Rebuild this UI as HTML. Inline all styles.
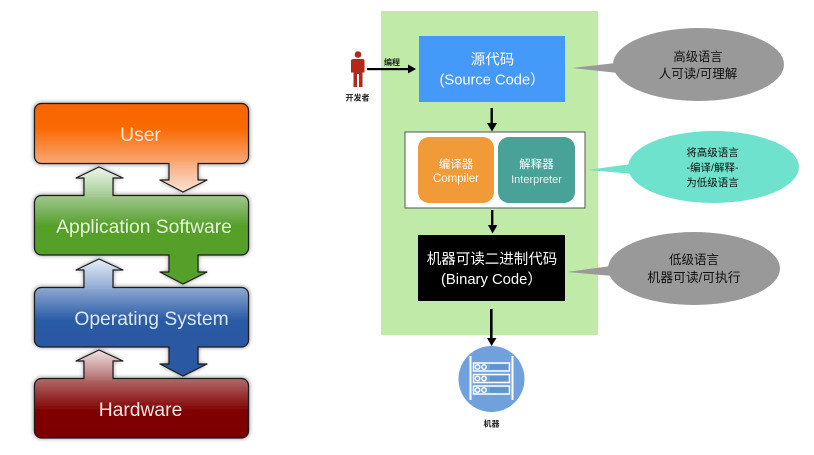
<!DOCTYPE html>
<html><head><meta charset="utf-8">
<style>
html,body{margin:0;padding:0;background:#fff;width:814px;height:455px;overflow:hidden}
svg{display:block}
text{font-family:"Liberation Sans","Noto Sans CJK SC",sans-serif}
</style></head><body>
<svg width="814" height="455" viewBox="0 0 814 455" xmlns="http://www.w3.org/2000/svg">
<defs>
<filter id="s" x="-10%" y="-20%" width="120%" height="140%"><feGaussianBlur stdDeviation="2.5"/></filter>
<filter id="b"><feGaussianBlur stdDeviation="0.35"/></filter>
<linearGradient id="u" x1="0" y1="0" x2="0" y2="1"><stop offset="0" stop-color="#f96400"/><stop offset=".42" stop-color="#f96a04"/><stop offset="1" stop-color="#f9a878"/></linearGradient>
<linearGradient id="ud" gradientUnits="userSpaceOnUse" x1="0" y1="164" x2="0" y2="193"><stop offset="0" stop-color="#f9ac80"/><stop offset="1" stop-color="#fbe6da"/></linearGradient>
<linearGradient id="a" x1="0" y1="0" x2="0" y2="1"><stop offset="0" stop-color="#a0c890"/><stop offset=".5" stop-color="#57a02c"/><stop offset="1" stop-color="#55a028"/></linearGradient>
<linearGradient id="au" gradientUnits="userSpaceOnUse" x1="0" y1="167" x2="0" y2="196"><stop offset="0" stop-color="#eff6ea"/><stop offset="1" stop-color="#a4cb94"/></linearGradient>
<linearGradient id="o" x1="0" y1="0" x2="0" y2="1"><stop offset="0" stop-color="#8ea9d2"/><stop offset=".55" stop-color="#2a5ba6"/><stop offset="1" stop-color="#2a58a2"/></linearGradient>
<linearGradient id="ou" gradientUnits="userSpaceOnUse" x1="0" y1="259" x2="0" y2="288"><stop offset="0" stop-color="#e6edf6"/><stop offset="1" stop-color="#92acd4"/></linearGradient>
<linearGradient id="h" x1="0" y1="0" x2="0" y2="1"><stop offset="0" stop-color="#b06a6a"/><stop offset=".55" stop-color="#800000"/><stop offset="1" stop-color="#7c0000"/></linearGradient>
<linearGradient id="hu" gradientUnits="userSpaceOnUse" x1="0" y1="350" x2="0" y2="379"><stop offset="0" stop-color="#f0e2e2"/><stop offset="1" stop-color="#b57272"/></linearGradient>
</defs>

<!-- left stack shadows -->
<g filter="url(#s)" fill="#000" opacity=".55">
<rect x="34" y="103" width="215" height="61" rx="7"/>
<rect x="34" y="195" width="215" height="60" rx="7"/>
<rect x="34" y="287" width="215" height="60" rx="7"/>
<rect x="34" y="378" width="215" height="60" rx="7"/>
<path d="M169 164V180H160L183 192L207 180H198V164Z"/>
<path d="M169 255V272H160L183 284L207 272H198V255Z"/>
<path d="M169 347V364H160L183 376L207 364H198V347Z"/>
<path d="M84 195V178H76L99 167L123 178H113V195Z"/>
<path d="M84 287V270H76L99 259L123 270H113V287Z"/>
<path d="M84 378V361H76L99 350L123 361H113V378Z"/>
</g>
<g filter="url(#b)">
<g stroke="#1a1a1a" stroke-width="1.2" stroke-linejoin="round">
<path d="M84 196V178H76L99 167L123 178H113V196Z" fill="url(#au)"/>
<path d="M84 288V270H76L99 259L123 270H113V288Z" fill="url(#ou)"/>
<path d="M84 379V361H76L99 350L123 361H113V379Z" fill="url(#hu)"/>
<path d="M169 163V180H160L183 192L207 180H198V163Z" fill="url(#ud)"/>
<path d="M169 254V272H160L183 284L207 272H198V254Z" fill="#57a02c"/>
<path d="M169 346V364H160L183 376L207 364H198V346Z" fill="#2a58a2"/>
<rect x="34.500" y="103.500" width="214" height="60" rx="7" fill="url(#u)"/>
<rect x="34.500" y="195.500" width="214" height="59.500" rx="7" fill="url(#a)"/>
<rect x="34.500" y="287.500" width="214" height="59.500" rx="7" fill="url(#o)"/>
<rect x="34.500" y="378.500" width="214" height="59.500" rx="7" fill="url(#h)"/>
</g>
<!-- hide joins -->
<rect x="169.600" y="162" width="27.800" height="3" fill="#f9ac80"/>
<rect x="169.600" y="253" width="27.800" height="3" fill="#57a02c"/>
<rect x="169.600" y="345" width="27.800" height="3" fill="#2a58a2"/>
<rect x="84.600" y="194" width="27.800" height="3" fill="#a4cb94"/>
<rect x="84.600" y="286" width="27.800" height="3" fill="#92acd4"/>
<rect x="84.600" y="377" width="27.800" height="3" fill="#b57272"/>
<g font-size="19.300" text-anchor="middle">
<text x="140.500" y="141" fill="#fde6d4">User</text>
<text x="144" y="233" fill="#e6f4da">Application Software</text>
<text x="151.500" y="325" fill="#dbe7f8">Operating System</text>
<text x="140.500" y="416" fill="#f6e6e6">Hardware</text>
</g>
</g>

<!-- right panel -->
<rect x="381" y="11" width="217" height="324" fill="#c0eaa8"/>
<g filter="url(#b)">
<rect x="419" y="36" width="146" height="66" fill="#4499f8"/>
<text x="492.500" y="64.500" font-size="14.500" fill="#fff" text-anchor="middle">源代码</text>
<text x="439.500" y="84.500" font-size="14.700" fill="#fff">(Source Code）</text>

<rect x="405" y="132" width="180" height="76" fill="#fff" stroke="#555" stroke-width="1"/>
<rect x="418" y="137" width="76" height="66" rx="11" fill="#f09a38"/>
<rect x="498" y="137" width="77" height="66" rx="11" fill="#48a298"/>
<text x="456" y="168" font-size="11.500" fill="#fff" text-anchor="middle">编译器</text>
<text x="456" y="182" font-size="11.500" fill="#fff" text-anchor="middle">Compiler</text>
<text x="536.500" y="168" font-size="11.500" fill="#fff" text-anchor="middle">解释器</text>
<text x="536.500" y="183" font-size="11" fill="#e8f4f2" text-anchor="middle">Interpreter</text>

<rect x="418" y="235" width="147" height="66" fill="#000"/>
<text x="492" y="264" font-size="14.500" fill="#fff" text-anchor="middle">机器可读二进制代码</text>
<text x="441" y="284" font-size="14.800" fill="#fff">(Binary Code）</text>

<!-- connectors -->
<g fill="#000" stroke="none">
<rect x="367" y="68" width="43" height="2.200"/>
<path d="M408 64.500L416 69L408 73.500Z"/>
<rect x="490.500" y="108" width="2.400" height="17"/>
<path d="M487 123H497L492 131.500Z"/>
<rect x="491" y="210" width="2.400" height="16"/>
<path d="M488 225H497.500L492.500 233.500Z"/>
<rect x="490" y="309" width="2.600" height="30"/>
<path d="M487 338H496.500L491.500 346Z"/>
</g>
<text x="384" y="65" font-size="8" fill="#222" font-weight="bold">编程</text>

<!-- person -->
<g fill="#b02a1e">
<circle cx="358" cy="54.500" r="3.300"/>
<path d="M353.500 59H362.500Q364.500 59 364.500 61V72.500H362.500V87H359V74H357V87H353.500V72.500H351V61Q351 59 353.500 59Z"/>
</g>
<text x="357.500" y="100.500" font-size="8" fill="#222" text-anchor="middle" font-weight="bold">开发者</text>

<!-- bubbles -->
<path d="M572 68L616 63L618 73Z" fill="#999"/>
<ellipse cx="698.500" cy="64.500" rx="85.500" ry="36.500" fill="#999"/>
<text x="698" y="61" font-size="12.300" fill="#111" text-anchor="middle">高级语言</text>
<text x="698" y="78" font-size="12.500" fill="#111" text-anchor="middle">人可读/可理解</text>

<path d="M587 170L631 164L634 174Z" fill="#6ee2cc"/>
<ellipse cx="713.500" cy="167" rx="85.500" ry="36" fill="#6ee2cc"/>
<text x="712.500" y="156" font-size="10.500" fill="#111" text-anchor="middle">将高级语言</text>
<text x="712.500" y="171" font-size="10.500" fill="#111" text-anchor="middle">-编译/解释-</text>
<text x="712.500" y="186" font-size="10.500" fill="#111" text-anchor="middle">为低级语言</text>

<path d="M567 272L611 266L613 276Z" fill="#999"/>
<ellipse cx="694" cy="268.500" rx="86" ry="36.500" fill="#999"/>
<text x="694" y="264" font-size="12.500" fill="#111" text-anchor="middle">低级语言</text>
<text x="694" y="282" font-size="12.800" fill="#111" text-anchor="middle">机器可读/可执行</text>

<!-- machine -->
<circle cx="491.500" cy="379" r="33" fill="#6fa1dc"/>
<g fill="#fff">
<rect x="469.500" y="356" width="2" height="44"/>
<rect x="511.500" y="356" width="2" height="44"/>
</g>
<g fill="none" stroke="#fff" stroke-width="1.500">
<rect x="473.500" y="363" width="36" height="8"/>
<rect x="473.500" y="374.500" width="36" height="8"/>
<rect x="473.500" y="386" width="36" height="8"/>
<circle cx="477.500" cy="367" r="2.200"/><circle cx="484" cy="367" r="2.200"/>
<circle cx="477.500" cy="378.500" r="2.200"/><circle cx="484" cy="378.500" r="2.200"/>
<circle cx="477.500" cy="390" r="2.200"/><circle cx="484" cy="390" r="2.200"/>
</g>
<g fill="#5f93d2">
<rect x="490" y="364.500" width="18" height="5"/>
<rect x="490" y="376" width="18" height="5"/>
<rect x="490" y="387.500" width="18" height="5"/>
</g>
<text x="491.500" y="426.500" font-size="8" fill="#222" text-anchor="middle" font-weight="bold">机器</text>
</g>
</svg>
</body></html>
